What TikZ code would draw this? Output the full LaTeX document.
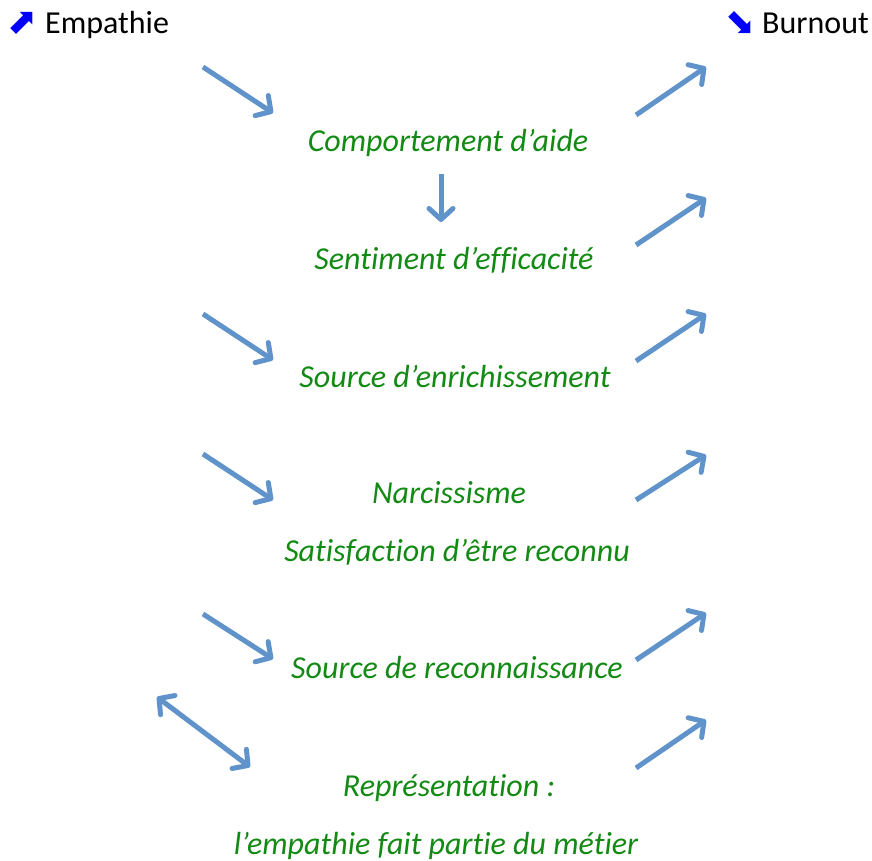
\documentclass[tikz,border=0pt]{standalone}
\usepackage{fontspec}
\setmainfont{Carlito}[Ligatures=NoCommon]
\newfontfamily\symfont{DejaVu Sans}
\usetikzlibrary{arrows.meta}
\definecolor{FlecheBleue}{HTML}{6193CB}
\definecolor{TexteVert}{HTML}{138A13}
\tikzset{
  pointe/.tip={Straight Barb[length=11pt,width=24pt,line width=5pt,round]},
  fleche/.style={FlecheBleue,line width=5pt,-pointe},
  doublefleche/.style={FlecheBleue,line width=5pt,pointe-pointe},
  etape/.style={TexteVert,font=\fontsize{32}{38}\selectfont\itshape,inner sep=0pt,anchor=base},
  titre/.style={font=\fontsize{32}{38}\selectfont,inner sep=0pt,anchor=base west},
  icone/.style={blue,font=\symfont\fontsize{36}{38}\selectfont,inner sep=0pt,anchor=center}
}
\begin{document}
\begin{tikzpicture}[x=1pt,y=-1pt]
            \useasboundingbox (0,0) rectangle (872,861);

            % en-tetes
            \node[icone] (icoEmp) at (23,23){⬈};
            \node[titre] (empathie) at (45,34){Empathie};
            \node[icone] (icoBurn) at (741,23){⬊};
            \node[titre] (burnout) at (762,34){Burnout};

            % etapes
            \node[etape] (aide) at (448,152){Comportement d’aide};
            \node[etape] (efficacite) at (454,269){Sentiment d’efficacité};
            \node[etape] (enrichissement) at (455,387){Source d’enrichissement};
            \node[etape] (narcissisme) at (449,503){Narcissisme};
            \node[etape] (satisfaction) at (457,561){Satisfaction d’être reconnu};
            \node[etape] (reconnaissance) at (457,678){Source de reconnaissance};
            \node[etape] (representation) at (449,796){Représentation :};
            \node[etape] (metier) at (436,854){l’empathie fait partie du métier};

            % fleches gauche
            \coordinate (g1a) at (203,67);   \coordinate (g1b) at (273,113);
            \coordinate (g3a) at (203,314);  \coordinate (g3b) at (273,360);
            \coordinate (g4a) at (203,454);  \coordinate (g4b) at (273,500);
            \coordinate (g5a) at (203,614);  \coordinate (g5b) at (273,659);
            \coordinate (g6a) at (157,697);  \coordinate (g6b) at (250,767);
            \draw[fleche] (g1a)--(g1b);
            \draw[fleche] (g3a)--(g3b);
            \draw[fleche] (g4a)--(g4b);
            \draw[fleche] (g5a)--(g5b);
            \draw[doublefleche] (g6a)--(g6b);

            % fleche centrale
            \coordinate (c1a) at (441,174);  \coordinate (c1b) at (441,222);
            \draw[fleche] (c1a)--(c1b);

            % fleches droite
            \coordinate (d1a) at (636,115);  \coordinate (d1b) at (706,67);
            \coordinate (d2a) at (636,245);  \coordinate (d2b) at (706,198);
            \coordinate (d3a) at (636,361);  \coordinate (d3b) at (706,314);
            \coordinate (d4a) at (636,500);  \coordinate (d4b) at (706,455);
            \coordinate (d5a) at (636,660);  \coordinate (d5b) at (706,613);
            \coordinate (d6a) at (636,768);  \coordinate (d6b) at (706,720);
            \draw[fleche] (d1a)--(d1b);
            \draw[fleche] (d2a)--(d2b);
            \draw[fleche] (d3a)--(d3b);
            \draw[fleche] (d4a)--(d4b);
            \draw[fleche] (d5a)--(d5b);
            \draw[fleche] (d6a)--(d6b);
\end{tikzpicture}
\end{document}
